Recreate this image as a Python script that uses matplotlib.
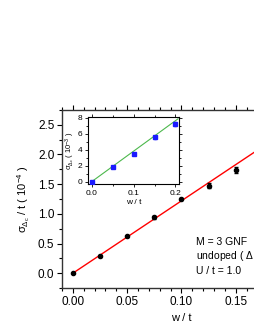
import matplotlib.pyplot as plt
import numpy as np

plt.rcParams['font.family'] = ['Liberation Sans', 'DejaVu Sans']
plt.rcParams['mathtext.fontset'] = 'custom'
plt.rcParams['mathtext.rm'] = 'Liberation Sans'
plt.rcParams['mathtext.it'] = 'Liberation Sans'

# ~~~~~~~~~~~~~~~~~~~~~~~~~~~~~~~~~~   RAW  DATA   ~~~~~~~~~~~~~~~~~~~~~~~~~~~~~~~~~~
# main panel
w_main = [0.0, 0.025, 0.05, 0.075, 0.1, 0.125, 0.15]
sigma_main = [0.0, 0.29, 0.625, 0.94, 1.245, 1.475, 1.74]
err_main = [0.0, 0.01, 0.01, 0.02, 0.02, 0.04, 0.05]
fit_main_x = [0.0, 0.21]
fit_main_y = [0.0, 2.56]
xtick_vals = [0.0, 0.05, 0.1, 0.15, 0.2]
xtick_text = ['0.00', '0.05', '0.10', '0.15', '']

# inset
w_inset = [0.0, 0.05, 0.1, 0.15, 0.2]
sigma_inset = [0.0, 1.85, 3.4, 5.55, 7.2]
err_inset = [0.05, 0.1, 0.1, 0.2, 0.3]
fit_inset_x = [0.0, 0.206]
fit_inset_y = [0.0, 7.85]

labels = ['M = 3 GNF', 'undoped ( $\\Delta$ = 0 )', 'U / t = 1.0']

# ~~~~~~~~~~~~~~~~~~~~~~~~~~~~~~~~~~ MAKE GRAPHS  ~~~~~~~~~~~~~~~~~~~~~~~~~~~~~~~~~~
fig = plt.figure(figsize=(2.55, 3.3), dpi=100)
ax = fig.add_axes([0.243, 0.127, 0.937, 0.540])

ax.plot(fit_main_x, fit_main_y, color='red', lw=1.0, zorder=2)
ax.errorbar(w_main, sigma_main, yerr=err_main, fmt='o', color='black',
            ms=3, capsize=1.5, elinewidth=0.8, zorder=3)

ax.set_xlim(-0.01, 0.21)
ax.set_ylim(-0.25, 2.75)
ax.set_xticks(xtick_vals)
ax.set_xticklabels(xtick_text)
ax.set_yticks([0.0, 0.5, 1.0, 1.5, 2.0, 2.5])
ax.set_xticks(np.arange(-0.01, 0.215, 0.01), minor=True)
ax.set_yticks(np.arange(-0.25, 2.76, 0.25), minor=True)
ax.tick_params(which='both', direction='out', top=True, right=True,
               labelsize=8.5, width=0.8)
ax.tick_params(which='major', length=3.5, pad=2)
ax.tick_params(which='minor', length=2)
for s in ax.spines.values():
    s.set_linewidth(1.0)
    s.set_color('#333333')

ax.set_xlabel('w / t', fontsize=8, labelpad=4)
ax.set_ylabel('$\\sigma_{\\Delta_c}$ / t ( 10$^{-4}$ )', fontsize=8, labelpad=4)

for i, t in enumerate(labels):
    fig.text(196 / 255, 1 - (242 + i * 14.3) / 330, t, fontsize=7.5,
             va='center', ha='left')

# inset
ins = fig.add_axes([0.346, 0.442, 0.357, 0.204])
ins.plot(fit_inset_x, fit_inset_y, color='#4cb84c', lw=0.8, zorder=2)
ins.errorbar(w_inset, sigma_inset, yerr=err_inset, fmt='s', color='#1a1aff',
             ms=2.6, capsize=1, elinewidth=0.6, zorder=3)
ins.set_xlim(-0.008, 0.209)
ins.set_ylim(-0.3, 8.1)
ins.set_xticks([0.0, 0.1, 0.2])
ins.set_yticks([0, 2, 4, 6, 8])
ins.set_xticks(np.arange(0.0, 0.21, 0.05), minor=True)
ins.set_yticks(np.arange(0, 8.1, 1), minor=True)
ins.tick_params(which='both', direction='out', top=True, right=True,
                labelsize=6, width=0.6, pad=1.5)
ins.tick_params(which='major', length=2.5)
ins.tick_params(which='minor', length=1.5)
ins.set_xlabel('w / t', fontsize=6, labelpad=2)
ins.set_ylabel('$\\sigma_{\\Delta_c}$ ( 10$^{-3}$ )', fontsize=5.5, labelpad=1)
for s in ins.spines.values():
    s.set_linewidth(0.8)

plt.savefig('out.png', dpi=100)
